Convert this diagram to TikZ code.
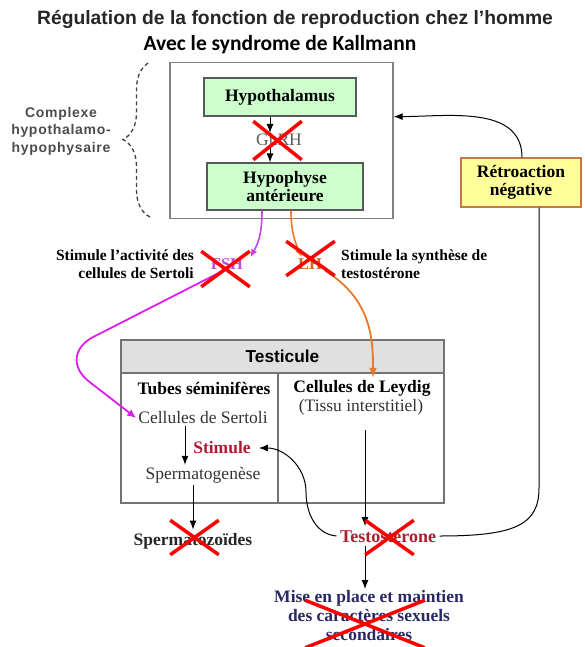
\documentclass[tikz,border=0pt]{standalone}
\usepackage{fontspec}
\setmainfont{Liberation Serif}
\newfontfamily\titlefont{Liberation Sans}
\newfontfamily\spacedfont[LetterSpace=5]{Liberation Sans}
\newfontfamily\subfont{Carlito}
\usetikzlibrary{arrows.meta,positioning,shapes.misc,decorations.pathreplacing}
\definecolor{vertpale}{RGB}{204,255,204}
\definecolor{jaunepale}{RGB}{255,255,153}
\definecolor{bordbrun}{RGB}{200,120,70}
\definecolor{violetfsh}{RGB}{195,70,230}
\definecolor{magentafsh}{RGB}{220,30,235}
\definecolor{orangelh}{RGB}{236,120,40}
\definecolor{rougetesto}{RGB}{170,30,50}
\definecolor{bleunuit}{RGB}{40,40,100}
\tikzset{
  hormbox/.style={
    rectangle, draw=black!65, fill=vertpale, line width=1.2pt,
    align=center, font=\bfseries\fontsize{17.5}{18}\selectfont
  },
  retrobox/.style={
    rectangle, draw=bordbrun, fill=jaunepale, line width=1.2pt,
    align=center, font=\bfseries\fontsize{17.5}{18}\selectfont
  },
  celltitle/.style={font=\bfseries\fontsize{17.5}{19}\selectfont, inner sep=2pt},
  celltext/.style={font=\fontsize{17.5}{19}\selectfont, text=black!80, inner sep=2pt},
  sidelabel/.style={font=\bfseries\fontsize{15.5}{18}\selectfont, inner sep=2pt},
  croix/.style={cross out, draw=red, line width=3.5pt, inner sep=0pt},
  fleche/.style={-{Latex[length=9pt,width=7pt]}, line width=1pt, draw=black},
  fsharrow/.style={-{Latex[length=9pt,width=8pt]}, line width=1.8pt, draw=magentafsh},
  lharrow/.style={-{Latex[length=10pt,width=8pt]}, line width=1.8pt, draw=orangelh},
}

\begin{document}
\begin{tikzpicture}[x=1pt, y=-1pt]
  \useasboundingbox (0,0) rectangle (584,647);

  % titres
  \node (titre) [font=\titlefont\bfseries\fontsize{19.3}{22}\selectfont, text=black!85] at (295,19) {Régulation de la fonction de reproduction chez l’homme};
  \node (soustitre) [font=\subfont\bfseries\fontsize{21.5}{24}\selectfont] at (280,45) {Avec le syndrome de Kallmann};

  % complexe hypothalamo-hypophysaire
  \node (complexe) [draw=black!50, line width=1.3pt, minimum width=223, minimum height=156, inner sep=0pt] at (281.5,140.5) {};
  \node (hypothal) [hormbox, minimum width=152, minimum height=38] at (280,97) {Hypothalamus};
  \node (gnrh) [font=\fontsize{17.5}{19}\selectfont, text=black!65, inner sep=1pt] at (279,140) {GnRH};
  \node (hypophyse) [hormbox, minimum width=156, minimum height=47, inner sep=1pt] at (285,186.5) {Hypophyse\\antérieure};
  \coordinate (axe) at (270,0);
  \draw[fleche] (axe |- hypothal.south) -- (axe |- gnrh.north);
  \draw[fleche] (axe |- gnrh.south) -- (axe |- hypophyse.north);

  \draw[dash pattern=on 4pt off 3pt, line width=1.3pt, black!75, decorate, decoration={brace, amplitude=27pt}] (150,217) -- (150,62);
  \node (nomcomplexe) [font=\spacedfont\bfseries\fontsize{14}{17.5}\selectfont, text=black!70, align=center] at (61,131)
    {Complexe\\hypothalamo-\\hypophysaire};

  \node (retro) [retrobox, minimum width=120, minimum height=49] at (521,182.5) {Rétroaction\\négative};

  % hormones hypophysaires
  \node (fsh) [font=\bfseries\fontsize{16.5}{18}\selectfont, text=violetfsh, inner sep=1pt] at (227,264) {FSH};
  \node (lh) [font=\bfseries\fontsize{16.5}{18}\selectfont, text=orangelh!85!black, inner sep=1pt] at (310,264) {LH};
  \node (stimsertoli) [sidelabel, align=right, anchor=east] at (196,264) {Stimule l’activité des\\cellules de Sertoli};
  \node (stimleydig) [sidelabel, align=left, anchor=west] at (339,264) {Stimule la synthèse de\\testostérone};

  % testicule
  \node (testicule) [draw=black!55, fill=black!12, line width=1.2pt, minimum width=323, minimum height=33,
    font=\titlefont\bfseries\fontsize{17.3}{19}\selectfont] at (282.5,356.5) {Testicule};
  \node (corps) [draw=black!55, line width=1.2pt, minimum width=323, minimum height=130, inner sep=0pt] at (282.5,438) {};
  \coordinate (cloison) at (278,0);
  \draw[black!55, line width=1.2pt] (cloison |- corps.north) -- (cloison |- corps.south);

  \node (tubes) [celltitle] at (204,388) {Tubes séminifères};
  \node (sertoli) [celltext] at (203,418) {Cellules de Sertoli};
  \node (stimule) [celltitle, text=rougetesto] at (222,448) {Stimule};
  \node (spermato) [celltext] at (203,475) {Spermatogenèse};
  \node (leydig) [celltitle] at (362,388) {Cellules de Leydig};
  \node (tissu) [celltext] at (361,407) {(Tissu interstitiel)};
  \draw[fleche] ([xshift=-18pt]sertoli.south) -- ([xshift=-18pt]spermato.north);

  % produits
  \node (spzoides) [font=\bfseries\fontsize{17.5}{19}\selectfont, text=black!85] at (193,541) {Spermatozoïdes};
  \node (testo) [font=\bfseries\fontsize{18}{19}\selectfont, text=rougetesto] at (388,536) {Testostérone};
  \node (miseplace) [font=\bfseries\fontsize{17.5}{19}\selectfont, text=bleunuit, align=center, anchor=north, inner sep=1pt] at (369,589)
    {Mise en place et maintien\\des caractères sexuels\\secondaires};
  \coordinate (leydigbas) at (365,430);
  \draw[fleche] (spzoides.north |- spermato.south) -- (spzoides.north);
  \draw[fleche] (leydigbas) -- (leydigbas |- testo.north);
  \draw[fleche] (leydigbas |- testo.south) -- (leydigbas |- miseplace.north);

  % stimulation de la spermatogenese par la testosterone
  \coordinate (coude) at (306,492);
  \draw[fleche] (testo.west) to[out=175, in=-90] (coude) to[out=90, in=0] ([xshift=6pt]stimule.east);

  % retroaction negative
  \coordinate (montee) at (539,488);
  \coordinate (sortie) at (522,0);
  \draw[line width=1pt] (testo.east) .. controls (515,536) and (539,525) .. (montee) -- (montee |- retro.south);
  \draw[fleche] (sortie |- retro.north) to[out=90, in=0] (complexe.east |- hypothal.south);

  % FSH et LH
  \coordinate (coin) at (56,356);
  \draw[draw=violetfsh, line width=1.6pt, -{Latex[length=8pt,width=7pt]}] ([xshift=-23pt]hypophyse.south) to[out=-90, in=60] ([xshift=6pt]fsh.north east);
  \draw[fsharrow, rounded corners=42pt] ([xshift=-4pt]fsh.south) -- (coin) -- (sertoli.west);
  \draw[draw=orangelh, line width=1.6pt, -{Latex[length=8pt,width=7pt]}] ([xshift=6pt]hypophyse.south) to[out=-90, in=115] ([xshift=-8pt]lh.north);
  \draw[lharrow] ([xshift=2pt]lh.south east) .. controls (372,300) and (373,340) .. ([xshift=11pt]leydig.north);

  % hormones absentes
  \node (xgnrh) [croix, minimum width=45, minimum height=35] at (277.5,140.5) {};
  \node (xfsh) [croix, minimum width=45, minimum height=32] at (225.5,269) {};
  \node (xlh) [croix, minimum width=45, minimum height=31] at (310.5,258.5) {};
  \node (xspz) [croix, minimum width=45, minimum height=31] at (194.5,537.5) {};
  \node (xtesto) [croix, minimum width=45, minimum height=31] at (389.5,537.5) {};
  \node (xmise) [croix, minimum width=116, minimum height=44] at (365,624) {};
\end{tikzpicture}
\end{document}
